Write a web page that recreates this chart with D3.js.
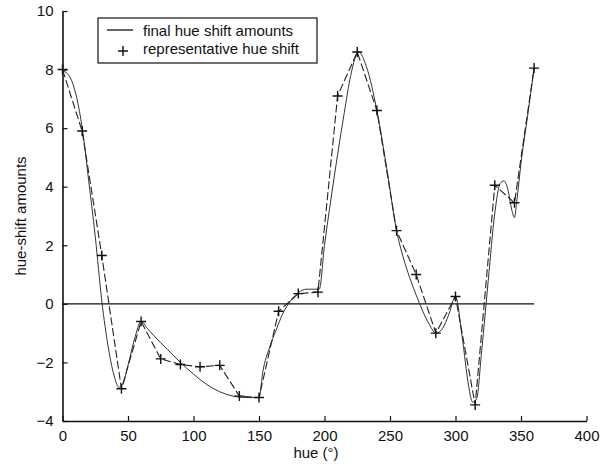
<!DOCTYPE html>
<html>
<head>
<meta charset="utf-8">
<script src="https://cdn.jsdelivr.net/npm/d3@7"></script>
<style>
  body { margin: 0; background: #fff; }
  text { font-family: "Liberation Sans", Arial, sans-serif; fill: #111; }
</style>
</head>
<body>
<div id="chart"></div>
<script>
// representative hue shift (markers, every 15 degrees)
const repHue = [0, 15, 30, 45, 60, 75, 90, 105, 120, 135, 150, 165, 180, 195, 210, 225, 240, 255, 270, 285, 300, 315, 330, 345, 360];
const repShift = [8.0, 5.9, 1.65, -2.9, -0.6, -1.88, -2.07, -2.15, -2.1, -3.15, -3.2, -0.25, 0.35, 0.4, 7.1, 8.6, 6.6, 2.5, 1.0, -1.0, 0.25, -3.45, 4.05, 3.45, 8.05];

// final hue shift amounts (smooth curve)
const finalHue = [0, 4, 8, 12, 16, 20, 25, 30, 35, 40, 43, 46, 50, 55, 60, 65, 70, 80, 90, 100, 110, 120, 130, 140, 150,
  153, 158, 163, 168, 174, 180, 186, 192, 196, 200, 205, 210, 215, 220, 226, 232, 240, 248, 255, 260, 265, 270, 275, 280,
  285, 290, 295, 300, 305, 310, 313, 316, 320, 325, 330, 334, 337, 340, 343, 345, 347, 350, 355, 360];
const finalShift = [7.95, 7.85, 7.5, 6.8, 5.7, 4.2, 2.3, 0.1, -1.5, -2.55, -2.85, -2.75, -2.1, -1.2, -0.6, -0.85, -1.1, -1.55, -2.0, -2.4, -2.75, -3.0, -3.15, -3.2, -3.2,
  -2.3, -1.5, -0.9, -0.35, 0.1, 0.38, 0.5, 0.5, 0.5, 2.0, 3.6, 5.1, 6.5, 7.8, 8.6, 8.1, 6.6, 4.5, 2.5, 1.6, 0.9, 0.3, -0.25, -0.7,
  -1.0, -0.85, -0.35, 0.25, -1.1, -2.8, -3.35, -3.25, -1.6, 0.8, 3.1, 4.1, 4.2, 3.9, 3.2, 2.95, 3.6, 4.8, 6.4, 8.05];

const xTicks = [0, 50, 100, 150, 200, 250, 300, 350, 400];
const yTicks = [-4, -2, 0, 2, 4, 6, 8, 10];

const W = 613, H = 466;
const svg = d3.select("#chart").append("svg").attr("width", W).attr("height", H);

const x = d3.scaleLinear().domain([0, 400]).range([62.5, 586.5]);
const y = d3.scaleLinear().domain([-4, 10]).range([421, 11]);

// axes (ticks point inward)
const xAxis = svg.append("g")
  .attr("transform", `translate(0,${y(-4)})`)
  .call(d3.axisBottom(x).tickValues(xTicks).tickSizeInner(-5).tickSizeOuter(0).tickPadding(9));
const yAxis = svg.append("g")
  .attr("transform", `translate(${x(0)},0)`)
  .call(d3.axisLeft(y).tickValues(yTicks).tickSizeInner(-5).tickSizeOuter(0).tickPadding(9));

[xAxis, yAxis].forEach(a => {
  a.select(".domain").attr("stroke", "#111").attr("stroke-width", 1.6);
  a.selectAll(".tick line").attr("stroke", "#111").attr("stroke-width", 1.2);
  a.selectAll(".tick text").style("font-size", "15px").attr("fill", "#111");
});

// zero line
svg.append("line")
  .attr("x1", x(0)).attr("x2", x(360))
  .attr("y1", y(0)).attr("y2", y(0))
  .attr("stroke", "#111").attr("stroke-width", 1.2);

// final curve
const smooth = d3.line()
  .x((d, i) => x(finalHue[i]))
  .y(d => y(d))
  .curve(d3.curveMonotoneX);
svg.append("path")
  .attr("d", smooth(finalShift))
  .attr("fill", "none")
  .attr("stroke", "#333")
  .attr("stroke-width", 1);

// representative dashed line
const straight = d3.line()
  .x((d, i) => x(repHue[i]))
  .y(d => y(d));
svg.append("path")
  .attr("d", straight(repShift))
  .attr("fill", "none")
  .attr("stroke", "#222")
  .attr("stroke-width", 1.1)
  .attr("stroke-dasharray", "8,3");

// plus markers
const plus = d3.symbol().type(d3.symbolCross).size(60);
const crossPath = "M-5,0H5M0,-5V5";
svg.append("g").selectAll("path")
  .data(repShift)
  .join("path")
  .attr("transform", (d, i) => `translate(${x(repHue[i])},${y(d)})`)
  .attr("d", crossPath)
  .attr("stroke", "#111")
  .attr("stroke-width", 1.4)
  .attr("fill", "none");

// legend
const lg = svg.append("g");
lg.append("rect")
  .attr("x", 98).attr("y", 18).attr("width", 219).attr("height", 45)
  .attr("fill", "#fff").attr("stroke", "#111").attr("stroke-width", 1.2);
lg.append("line")
  .attr("x1", 107).attr("x2", 133).attr("y1", 30).attr("y2", 30)
  .attr("stroke", "#111").attr("stroke-width", 1.3);
lg.append("path")
  .attr("transform", "translate(123,51)")
  .attr("d", crossPath)
  .attr("stroke", "#111").attr("stroke-width", 1.4);
lg.append("text").attr("x", 143).attr("y", 36).style("font-size", "15px").text("final hue shift amounts");
lg.append("text").attr("x", 143).attr("y", 54).style("font-size", "15px").text("representative hue shift");

// axis labels
svg.append("text")
  .attr("x", 316).attr("y", 458)
  .attr("text-anchor", "middle")
  .style("font-size", "15px")
  .text("hue (°)");
svg.append("text")
  .attr("transform", "translate(26,216) rotate(-90)")
  .attr("text-anchor", "middle")
  .style("font-size", "15px")
  .text("hue-shift amounts");
</script>
</body>
</html>
